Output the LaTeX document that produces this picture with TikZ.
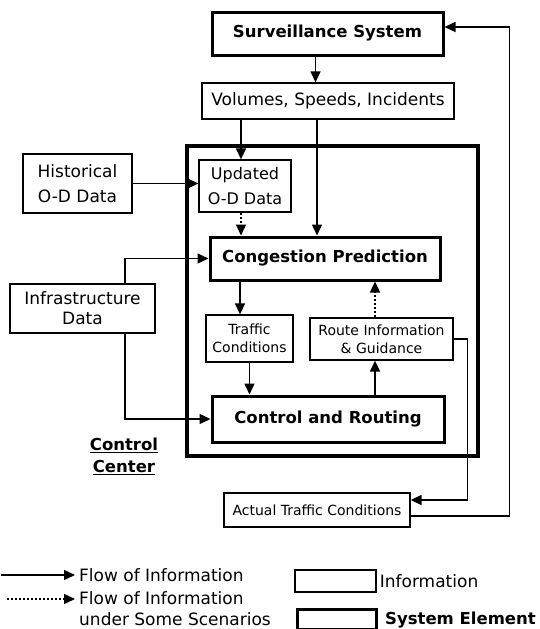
\documentclass[tikz,border=0pt]{standalone}
\usepackage{fontspec}
\setmainfont{DejaVu Sans}
\usepackage{tikz}
\usetikzlibrary{arrows.meta, positioning, calc}

\begin{document}
\begin{tikzpicture}[
  x=1pt, y=-1pt,
  info/.style={rectangle, draw, line width=1.3pt, inner sep=0pt, align=center,
               font=\fontsize{17}{21}\selectfont},
  small/.style={info, font=\fontsize{14}{18}\selectfont},
  element/.style={info, line width=3pt, font=\bfseries\fontsize{16.5}{20}\selectfont},
  legtext/.style={inner sep=0pt, anchor=west, align=left, font=\fontsize{17}{21}\selectfont},
  arrow/.style={-{Triangle[length=11pt, width=10pt]}, line width=1.4pt},
  maybe/.style={arrow, dash pattern=on 2pt off 2pt}
]
  \useasboundingbox (0,0) rectangle (539,629);

  % control center frame
  \node[draw, line width=4pt, inner sep=0pt, minimum width=291pt, minimum height=310pt] (center) at (332.5,301) {};
  \node[inner sep=0pt, align=center, font=\bfseries\fontsize{16.5}{22}\selectfont] (centerlabel) at (124,456) {\underline{Control}\\\underline{Center}};

  % elements and information
  \node[element, minimum width=231pt, minimum height=43pt] (surv) at (327.5,33.5) {Surveillance System};
  \node[info, minimum width=252pt, minimum height=36pt] (vol) at (328,101) {Volumes, Speeds, Incidents};
  \node[info, minimum width=109pt, minimum height=59pt, font=\fontsize{17}{25}\selectfont] (hist) at (77.5,183.5) {Historical\\O-D Data};
  \node[info, minimum width=92pt, minimum height=52pt, font=\fontsize{16}{25}\selectfont] (upd) at (245,186) {Updated\\O-D Data};
  \node[element, minimum width=230pt, minimum height=43pt] (cong) at (325,258.5) {Congestion Prediction};
  \node[info, minimum width=145pt, minimum height=49pt, font=\fontsize{17}{20}\selectfont] (infra) at (82.5,308.5) {Infrastructure\\Data};
  \node[small, minimum width=87pt, minimum height=47pt] (traf) at (249.5,338.5) {Traffic\\Conditions};
  \node[small, minimum width=143pt, minimum height=42pt] (route) at (381.5,339) {Route Information\\\& Guidance};
  \node[element, minimum width=232pt, minimum height=46pt] (ctrl) at (328,419) {Control and Routing};
  \node[small, minimum width=186pt, minimum height=34pt] (actual) at (317,510) {Actual Traffic Conditions};

  % flows
  \draw[arrow] ([xshift=-12pt]surv.south) -- ([xshift=-12pt]surv.south |- vol.north);
  \draw[arrow] ([xshift=-87pt]vol.south) -- ([xshift=-87pt]vol.south |- upd.north);
  \draw[arrow] ([xshift=-11pt]vol.south) -- ([xshift=-11pt]vol.south |- cong.north);
  \draw[arrow] (hist.east) -- (hist.east -| upd.west);
  \draw[maybe] ([xshift=-4pt]upd.south) -- ([xshift=-4pt]upd.south |- cong.north);
  \draw[arrow] ([xshift=42.5pt]infra.north) |- (cong.west);
  \draw[arrow] ([xshift=42.5pt]infra.south) |- (ctrl.west);
  \draw[arrow] ([xshift=-85pt]cong.south) -- ([xshift=-85pt]cong.south |- traf.north);
  \draw[arrow] (traf.south) -- (traf.south |- ctrl.north);
  \draw[arrow] ([xshift=47pt]ctrl.north) -- ([xshift=47pt]ctrl.north |- route.south);
  \draw[maybe] ([xshift=-6.5pt]route.north) -- ([xshift=-6.5pt]route.north |- cong.south);
  \draw[arrow] (route.east) -- ++(14pt,0) |- ([yshift=10pt]actual.east);
  \draw[arrow] ([yshift=-6pt]actual.east) -- ++(99pt,0) |- ([yshift=6.5pt]surv.east);

  % legend
  \node[legtext] (lsolid) at (79,575) {Flow of Information};
  \node[legtext] (ldotted) at (79,609) {Flow of Information\\under Some Scenarios};
  \coordinate (sa) at (1,575);
  \coordinate (da) at (7,599);
  \draw[arrow] (sa) -- ([xshift=-4pt]lsolid.west);
  \draw[maybe] (da) -- ([xshift=-4pt]da -| lsolid.west);
  \node[info, minimum width=81pt, minimum height=22pt] (linfo) at (335.5,581) {};
  \node[legtext] (linfotext) at ([xshift=3pt]linfo.east) {Information};
  \node[element, minimum width=79pt, minimum height=20pt] (lsys) at (336.5,619) {};
  \node[legtext, font=\bfseries\fontsize{16.5}{20}\selectfont] (lsystext) at (385,620) {System Element};
\end{tikzpicture}
\end{document}
